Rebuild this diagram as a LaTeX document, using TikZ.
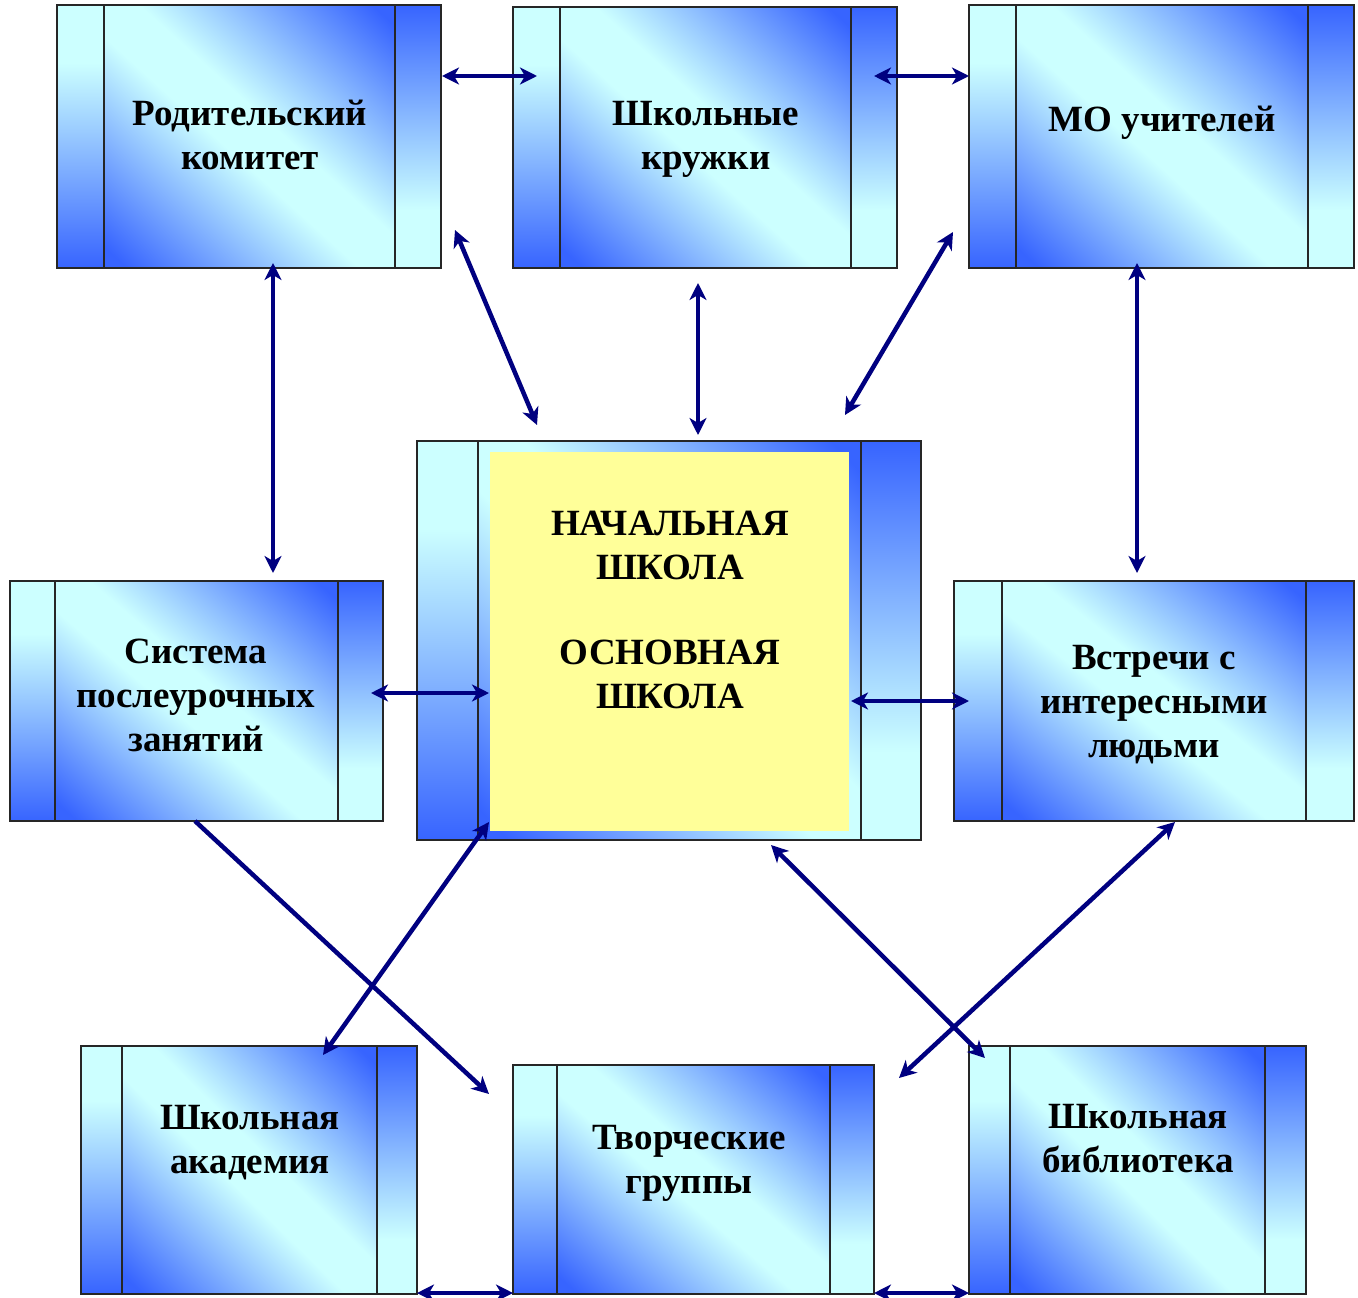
\documentclass[tikz,border=0pt]{standalone}
\usepackage{fontspec}
\setmainfont{Liberation Serif}
\usetikzlibrary{arrows.meta,calc}
\definecolor{lcyan}{RGB}{204,255,255}
\definecolor{dblue}{RGB}{55,100,255}
\definecolor{navyc}{RGB}{0,0,128}
\definecolor{lyellow}{RGB}{255,255,153}
\pgfdeclareverticalshading{diagband}{100bp}{color(0bp)=(dblue); color(27bp)=(dblue); color(47bp)=(lcyan); color(53bp)=(lcyan); color(73bp)=(dblue); color(100bp)=(dblue)}
\pgfdeclareverticalshading{leftpanel}{100bp}{color(0bp)=(dblue); color(25bp)=(dblue); color(64bp)=(lcyan); color(75bp)=(lcyan); color(100bp)=(lcyan)}
\pgfdeclareverticalshading{rightpanel}{100bp}{color(0bp)=(lcyan); color(25bp)=(lcyan); color(36bp)=(lcyan); color(75bp)=(dblue); color(100bp)=(dblue)}
\tikzset{
  boxline/.style={line width=2pt, draw=black!85},
  tipx/.tip={Stealth[length=17pt,width=17pt,inset=5pt]},
  arr/.style={navyc, line width=4.5pt, tipx-tipx},
  arrone/.style={navyc, line width=4.5pt, -tipx},
  lbl/.style={align=center, font=\bfseries\fontsize{37}{44}\selectfont, inner sep=0pt, text=black},
  panel/.style={inner sep=0pt, outer sep=0pt, anchor=north west}
}
% name, x1, y1, x2, y2, xa, xb
\newcommand{\tribox}[7]{%
  \shade[shading=leftpanel] (#2,#3) rectangle (#6,#5);
  \pgfmathsetmacro\tbcx{(#6+#7)/2}%
  \pgfmathsetmacro\tbcy{(#3+#5)/2}%
  \pgfmathsetmacro\tbxs{(#7-#6)/(#5-#3)}%
  \pgfmathsetmacro\tbH{(#5-#3)*0.7071}%
  \begin{scope}
    \clip (#6,#3) rectangle (#7,#5);
    \begin{scope}[transform canvas={shift={(\tbcx,\tbcy)},xscale=\tbxs,rotate=-45}]
      \shade[shading=diagband] (-\tbH-20,-\tbH) rectangle (\tbH+20,\tbH);
    \end{scope}
  \end{scope}
  \shade[shading=rightpanel] (#7,#3) rectangle (#4,#5);
  \draw[boxline] (#6,#3) -- (#6,#5) (#7,#3) -- (#7,#5);
  \node[panel, boxline, minimum width={(#4-#2)*1pt}, minimum height={(#5-#3)*1pt}] (#1) at (#2,#3) {};
}
\begin{document}
\begin{tikzpicture}[x=1pt,y=-1pt]
\useasboundingbox (0,0) rectangle (1358,1298);
\fill[white] (0,0) rectangle (1358,1298);

\tribox{b1}{57}{5}{441}{268}{104}{395}
\tribox{b2}{513}{7}{897}{268}{560}{851}
\tribox{b3}{969}{5}{1354}{268}{1016}{1308}
\tribox{b4}{10}{581}{383}{821}{55}{338}
\tribox{c}{417}{441}{921}{840}{478}{861}
\tribox{b6}{954}{581}{1354}{821}{1002}{1306}
\tribox{b7}{81}{1046}{417}{1294}{122}{377}
\tribox{b8}{513}{1065}{874}{1294}{557}{830}
\tribox{b9}{969}{1046}{1306}{1294}{1010}{1265}

\node[panel, fill=lyellow, minimum width=359pt, minimum height=379pt] (y) at (490,452) {};

\node[lbl] (t1) at (250,135) {Родительский\\комитет};
\node[lbl] (t2) at (706,139) {Школьные\\кружки};
\node[lbl] (t3) at (1162,123) {МО учителей};
\node[lbl] (t4) at (196,695) {Система\\послеурочных\\занятий};
\node[lbl] (t5) at (670,610) {НАЧАЛЬНАЯ\\ШКОЛА\\[41pt]ОСНОВНАЯ\\ШКОЛА};
\node[lbl] (t6) at (1154,705) {Встречи с\\интересными\\людьми};
\node[lbl] (t7) at (250,1143) {Школьная\\академия};
\node[lbl] (t8) at (689,1163) {Творческие\\группы};
\node[lbl] (t9) at (1138,1139) {Школьная\\библиотека};

\draw[arr] ($(b1.north east)+(1,71)$) -- ($(b2.north west)+(24,69)$);
\draw[arr] ($(b2.north east)+(-23,69)$) -- ($(b3.north west)+(0,71)$);
\draw[arr] ($(b1.south)+(24,-5)$) -- ($(b4.north)+(76.5,-8)$);
\draw[arr] ($(b1.south east)+(14,-38)$) -- ($(c.north west)+(120,-16)$);
\draw[arr] ($(b2.south)+(-7,15)$) -- ($(c.north)+(29,-6)$);
\draw[arr] ($(b3.south west)+(-16,-36)$) -- ($(c.north east)+(-76,-26)$);
\draw[arr] ($(b3.south)+(-24.5,-5)$) -- ($(b6.north)+(-17,-8)$);
\draw[arr] ($(b4.east)+(-12,-8)$) -- ($(c.west)+(72,52.5)$);
\draw[arr] ($(c.east)+(-70,60.5)$) -- ($(b6.west)+(15,0)$);
\draw[arrone] ($(b4.south)+(-1.5,0)$) -- ($(b8.north west)+(-24,29)$);
\draw[arr] ($(c.south west)+(72,-18)$) -- ($(b7.north)+(74,9)$);
\draw[arr] ($(c.south)+(102,5)$) -- ($(b9.north west)+(16,12)$);
\draw[arr] ($(b6.south)+(21,1)$) -- ($(b8.north east)+(25,13)$);
\draw[arr] ($(b7.south east)+(0,-1)$) -- ($(b8.south west)+(0,-1)$);
\draw[arr] ($(b8.south east)+(0,-1)$) -- ($(b9.south west)+(0,-1)$);
\end{tikzpicture}
\end{document}
